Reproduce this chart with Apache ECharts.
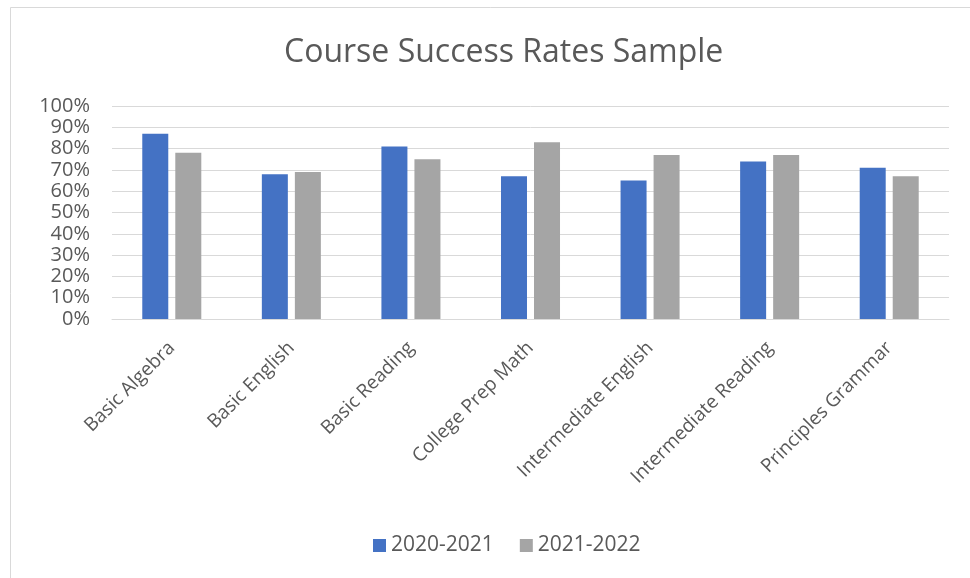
<!DOCTYPE html>
<html>
<head>
<meta charset="utf-8">
<script src="https://cdn.jsdelivr.net/npm/echarts@6/dist/echarts.min.js"></script>
<style>
html,body{margin:0;padding:0;background:#fff;}
#chart{width:970px;height:578px;}
</style>
</head>
<body>
<div id="chart"></div>
<script>
const titleText = "Course Success Rates Sample";
const categories = ["Basic Algebra","Basic English","Basic Reading","College Prep Math","Intermediate English","Intermediate Reading","Principles Grammar"];
const seriesNames = ["2020-2021","2021-2022"];
const values2020 = [87,68,81,67,65,74,71];
const values2021 = [78,69,75,83,77,77,67];
const colors = ["#4472C4","#A5A5A5"];

const chart = echarts.init(document.getElementById('chart'), null, {renderer:'canvas'});
const font = "'Open Sans', sans-serif";
chart.setOption({
  animation:false,
  backgroundColor:'#fff',
  graphic:[{
    type:'rect', shape:{x:10.5,y:7.5,width:1000,height:1000},
    style:{fill:'none',stroke:'#d9d9d9',lineWidth:1}, silent:true
  }],
  title:{
    text:titleText, left:279, top:32,
    textStyle:{fontFamily:font,fontSize:32,fontWeight:'normal',color:'#595959'}
  },
  legend:{
    data:seriesNames, bottom:17, left:368,
    itemWidth:13,itemHeight:13,itemGap:26,icon:'rect',
    textStyle:{fontFamily:font,fontSize:21,color:'#595959'}
  },
  grid:{left:112,right:21,top:106,bottom:259,containLabel:false},
  xAxis:{
    type:'category', data:categories,
    axisLine:{show:true,lineStyle:{color:'#d9d9d9'}},
    axisTick:{show:false},
    axisLabel:{rotate:45,fontFamily:font,fontSize:19,color:'#595959',interval:0,margin:26}
  },
  yAxis:{
    type:'value', min:0, max:100, interval:10,
    axisLine:{show:false}, axisTick:{show:false},
    splitLine:{lineStyle:{color:'#d9d9d9'}},
    axisLabel:{formatter:'{value}%',fontFamily:font,fontSize:20,color:'#595959',margin:22}
  },
  series:[
    {name:seriesNames[0],type:'bar',data:values2020,itemStyle:{color:colors[0]},barWidth:26,barGap:'27%'},
    {name:seriesNames[1],type:'bar',data:values2021,itemStyle:{color:colors[1]},barWidth:26,barGap:'27%'}
  ]
});
</script>
</body>
</html>
